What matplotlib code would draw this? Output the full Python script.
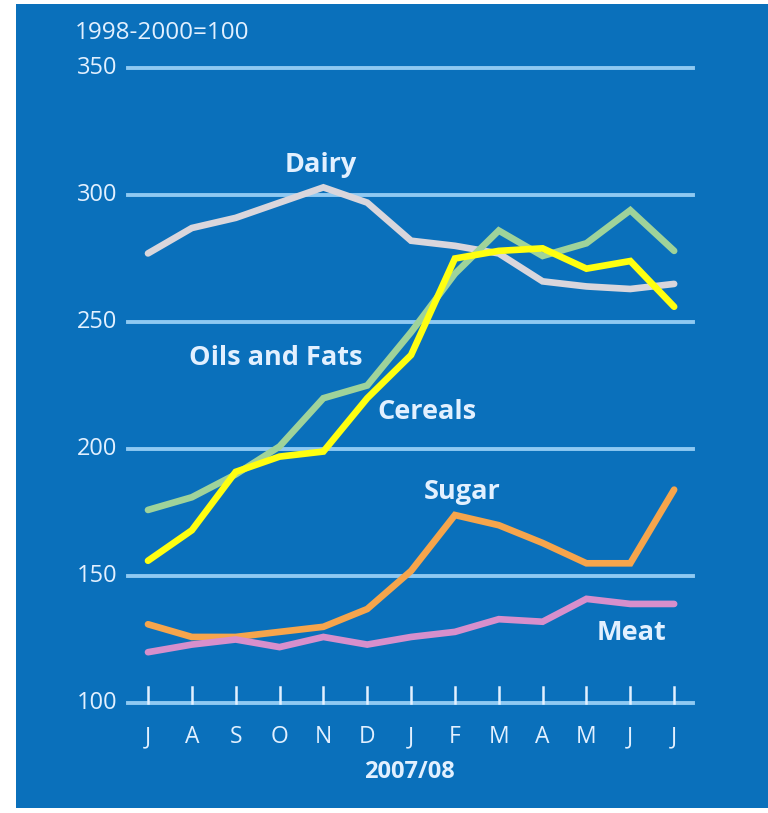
import matplotlib.pyplot as plt
from matplotlib.patches import Rectangle

# -------------------------
# Data (index, 1998-2000 = 100)
# -------------------------

months = ["J", "A", "S", "O", "N", "D", "J", "F", "M", "A", "M", "J", "J"]

dairy = [277, 287, 291, 297, 303, 297, 282, 280, 277, 266, 264, 263, 265]
oils = [176, 181, 190, 201, 220, 225, 246, 269, 286, 276, 281, 294, 278]
cereals = [156, 168, 191, 197, 199, 220, 237, 275, 278, 279, 271, 274, 256]
sugar = [131, 126, 126, 128, 130, 137, 152, 174, 170, 163, 155, 155, 184]
meat = [120, 123, 125, 122, 126, 123, 126, 128, 133, 132, 141, 139, 139]

yticks = [100, 150, 200, 250, 300, 350]

# -------------------------
# Colors
# -------------------------

bg = "#0a70bb"
grid_col = "#8fc9f2"
text_col = "#e2f0ff"

colors = {
    "Dairy": "#d9d6dc",
    "Oils and Fats": "#9fd39a",
    "Cereals": "#ffff10",
    "Sugar": "#f6a54c",
    "Meat": "#d78fcc",
}

plt.rcParams["font.family"] = ["Open Sans", "DejaVu Sans"]

fig = plt.figure(figsize=(7.68, 8.13), dpi=100)
fig.patch.set_facecolor("white")

fig.patches.append(
    Rectangle((16 / 768, 5 / 813), 752 / 768, 804 / 813,
              transform=fig.transFigure, facecolor=bg, edgecolor="none", zorder=0)
)

ax = fig.add_axes([128 / 768, 110 / 813, 565 / 768, 635 / 813])
ax.set_facecolor("none")
ax.set_zorder(1)

x = list(range(len(months)))

# grid lines
for y in yticks:
    ax.axhline(y, color=grid_col, linewidth=2.8, clip_on=False, zorder=1)

# month ticks
for xi in x:
    ax.plot([xi, xi], [100, 106.3], color=text_col, linewidth=1.8,
            clip_on=False, zorder=2)

series = [
    ("Dairy", dairy),
    ("Oils and Fats", oils),
    ("Sugar", sugar),
    ("Meat", meat),
    ("Cereals", cereals),
]

for name, vals in series:
    ax.plot(x, vals, color=colors[name], linewidth=4.8,
            solid_capstyle="round", solid_joinstyle="miter", zorder=3)

ax.set_xlim(-0.456, 12.43)
ax.set_ylim(100, 350)

for s in ax.spines.values():
    s.set_visible(False)
ax.set_xticks([])
ax.set_yticks([])

# y labels
for y in yticks:
    ax.text(-0.7, y, str(y), ha="right", va="center", color=text_col,
            fontsize=17, clip_on=False)

# month labels
for xi, m in zip(x, months):
    ax.text(xi, 86.6, m, ha="center", va="center", color=text_col,
            fontsize=16.5, clip_on=False)

ax.text(5.97, 72.8, "2007/08", ha="center", va="center", color=text_col,
        fontsize=17, fontweight="bold", clip_on=False)

ax.text(-1.665, 363.8, "1998-2000=100", ha="left", va="center",
        color=text_col, fontsize=17.5, clip_on=False)

# series labels
labels = [
    ("Dairy", 3.95, 311.8),
    ("Oils and Fats", 2.92, 235.8),
    ("Cereals", 6.37, 214.6),
    ("Sugar", 7.17, 183),
    ("Meat", 11.02, 127.6),
]
for name, lx, ly in labels:
    ax.text(lx, ly, name, ha="center", va="center", color=text_col,
            fontsize=19.5, fontweight="bold", zorder=4)

fig.savefig("out.png", dpi=100, facecolor=fig.get_facecolor())
